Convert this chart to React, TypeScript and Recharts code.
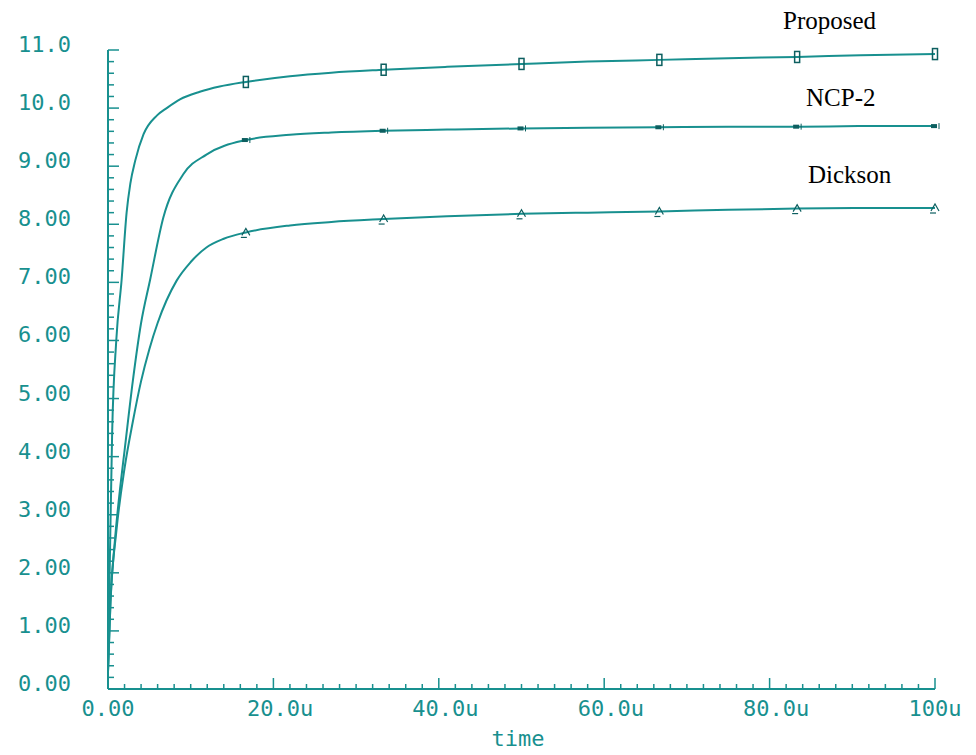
import { LineChart, Line, XAxis, YAxis } from 'recharts';

// sample times (u) and output voltage (V) for each pump
const proposedTime = [0, 0.2, 0.5, 1, 1.65, 2.25, 2.7, 3.3, 4.3, 5.9, 7.1, 8.7, 11.1, 13.5, 16.67, 22, 27, 33.33, 41, 50, 58, 66.67, 75, 83.33, 91, 100];
const proposedVolt = [0.3, 2.0, 4.4, 6.0, 7.05, 8.2, 8.7, 9.1, 9.55, 9.87, 10.0, 10.15, 10.28, 10.37, 10.45, 10.55, 10.61, 10.66, 10.71, 10.76, 10.8, 10.83, 10.86, 10.88, 10.91, 10.93];

const ncpTime = [0, 0.3, 0.8, 1.5, 2, 3, 4, 5.1, 6.7, 9.1, 11.9, 16.67, 22, 27, 33.33, 41, 50, 58, 66.67, 75, 83.33, 91, 100];
const ncpVolt = [0.3, 1.5, 2.5, 3.5, 4.1, 5.3, 6.3, 7.05, 8.12, 8.86, 9.2, 9.45, 9.54, 9.58, 9.61, 9.63, 9.65, 9.66, 9.67, 9.68, 9.68, 9.69, 9.69];

const dicksonTime = [0, 0.3, 1, 2, 3, 4, 5, 6, 8.3, 10, 11.9, 14, 16.67, 22, 27, 33.33, 41, 50, 58, 66.67, 75, 83.33, 91, 100];
const dicksonVolt = [0.3, 1.5, 2.7, 3.8, 4.6, 5.3, 5.85, 6.3, 7.03, 7.35, 7.6, 7.75, 7.86, 7.98, 8.04, 8.09, 8.14, 8.18, 8.2, 8.22, 8.25, 8.27, 8.28, 8.28];

// where the simulator drew its symbols
const markerTimes = [16.67, 33.33, 50, 66.67, 83.33, 100];

const xTickLabels = ['0.00', '20.0u', '40.0u', '60.0u', '80.0u', '100u'];
const yTickLabels = ['0.00', '1.00', '2.00', '3.00', '4.00', '5.00', '6.00', '7.00', '8.00', '9.00', '10.0', '11.0'];

const seriesNames = ['Proposed', 'NCP-2', 'Dickson'];

const TEAL = '#18908f';
const DARK = '#0d5f60';
const FONT = '"DejaVu Sans Mono", monospace';
const FS = 22;
const CHAR_W = FS * 0.602;

const toRows = (t: number[], v: number[]) => t.map((x, i) => ({ t: x, v: v[i] }));

const xTicks = Array.from({ length: 51 }, (_, i) => i * 2);
const yTicks = Array.from({ length: 56 }, (_, i) => Math.round(i * 2) / 10);

const XTick = ({ x, y, payload }: any) => {
  const v = payload.value;
  const major = v % 20 === 0;
  return (
    <g>
      <line x1={x} x2={x} y1={y} y2={y - (major ? 11 : 5)} stroke={TEAL} strokeWidth={1.5} />
      {major && (
        <text x={x - 2 * CHAR_W} y={y + 27} fill={TEAL} fontFamily={FONT} fontSize={FS} textAnchor="start">
          {xTickLabels[v / 20]}
        </text>
      )}
    </g>
  );
};

const YTick = ({ x, y, payload }: any) => {
  const v = payload.value;
  const major = Number.isInteger(v);
  return (
    <g>
      <line x1={x} x2={x + (major ? 11 : 6)} y1={y} y2={y} stroke={TEAL} strokeWidth={1.5} />
      {major && (
        <text x={x - 37} y={y + 2} fill={TEAL} fontFamily={FONT} fontSize={FS} textAnchor="end">
          {yTickLabels[v]}
        </text>
      )}
    </g>
  );
};

const isMarker = (t: number) => markerTimes.some((m) => Math.abs(m - t) < 0.01);

const proposedDot = ({ cx, cy, payload, index }: any) => {
  if (!isMarker(payload.t)) return <g key={`p${index}`} />;
  return <rect key={`p${index}`} x={cx - 2.5} y={cy - 5.5} width={5} height={11} fill="none" stroke={DARK} strokeWidth={1.5} />;
};

const ncpDot = ({ cx, cy, payload, index }: any) => {
  if (!isMarker(payload.t)) return <g key={`n${index}`} />;
  return (
    <g key={`n${index}`}>
      <rect x={cx - 4} y={cy - 2} width={6} height={4} fill={DARK} />
      <line x1={cx + 4} x2={cx + 4} y1={cy - 3} y2={cy + 3} stroke={DARK} strokeWidth={1} />
    </g>
  );
};

const dicksonDot = ({ cx, cy, payload, index }: any) => {
  if (!isMarker(payload.t)) return <g key={`d${index}`} />;
  return (
    <g key={`d${index}`}>
      <path d={`M${cx - 4},${cy + 3} L${cx},${cy - 4} L${cx + 4},${cy + 3}`} fill="none" stroke={DARK} strokeWidth={1.2} />
      <line x1={cx - 5} x2={cx + 1} y1={cy + 5} y2={cy + 5} stroke={DARK} strokeWidth={1.2} />
    </g>
  );
};

export default function App() {
  return (
    <div style={{ position: 'absolute', left: 0, top: 0, width: 976, height: 755, background: '#fff' }}>
      <LineChart width={976} height={755} margin={{ top: 50, right: 41, bottom: 0, left: 0 }}>
        <XAxis
          dataKey="t"
          type="number"
          domain={[0, 100]}
          ticks={xTicks}
          interval={0}
          height={66}
          tickSize={0}
          tickMargin={0}
          tickLine={false}
          axisLine={{ stroke: TEAL, strokeWidth: 2 }}
          tick={<XTick />}
        />
        <YAxis
          type="number"
          domain={[0, 11]}
          ticks={yTicks}
          interval={0}
          width={108}
          tickSize={0}
          tickMargin={0}
          tickLine={false}
          axisLine={{ stroke: TEAL, strokeWidth: 2 }}
          tick={<YTick />}
        />
        <Line data={toRows(proposedTime, proposedVolt)} dataKey="v" name={seriesNames[0]} type="monotone" stroke={TEAL} strokeWidth={2} dot={proposedDot} activeDot={false} isAnimationActive={false} />
        <Line data={toRows(ncpTime, ncpVolt)} dataKey="v" name={seriesNames[1]} type="monotone" stroke={TEAL} strokeWidth={2} dot={ncpDot} activeDot={false} isAnimationActive={false} />
        <Line data={toRows(dicksonTime, dicksonVolt)} dataKey="v" name={seriesNames[2]} type="monotone" stroke={TEAL} strokeWidth={2} dot={dicksonDot} activeDot={false} isAnimationActive={false} />
      </LineChart>
      <svg width={976} height={755} style={{ position: 'absolute', left: 0, top: 0, pointerEvents: 'none' }}>
        <text x={783} y={29} fontFamily='"Liberation Serif", serif' fontSize={25} fill="#000">{seriesNames[0]}</text>
        <text x={806} y={106} fontFamily='"Liberation Serif", serif' fontSize={25} fill="#000">{seriesNames[1]}</text>
        <text x={808} y={183} fontFamily='"Liberation Serif", serif' fontSize={25} fill="#000">{seriesNames[2]}</text>
        <text x={518} y={746} textAnchor="middle" fontFamily={FONT} fontSize={FS} fill={TEAL}>time</text>
      </svg>
    </div>
  );
}
